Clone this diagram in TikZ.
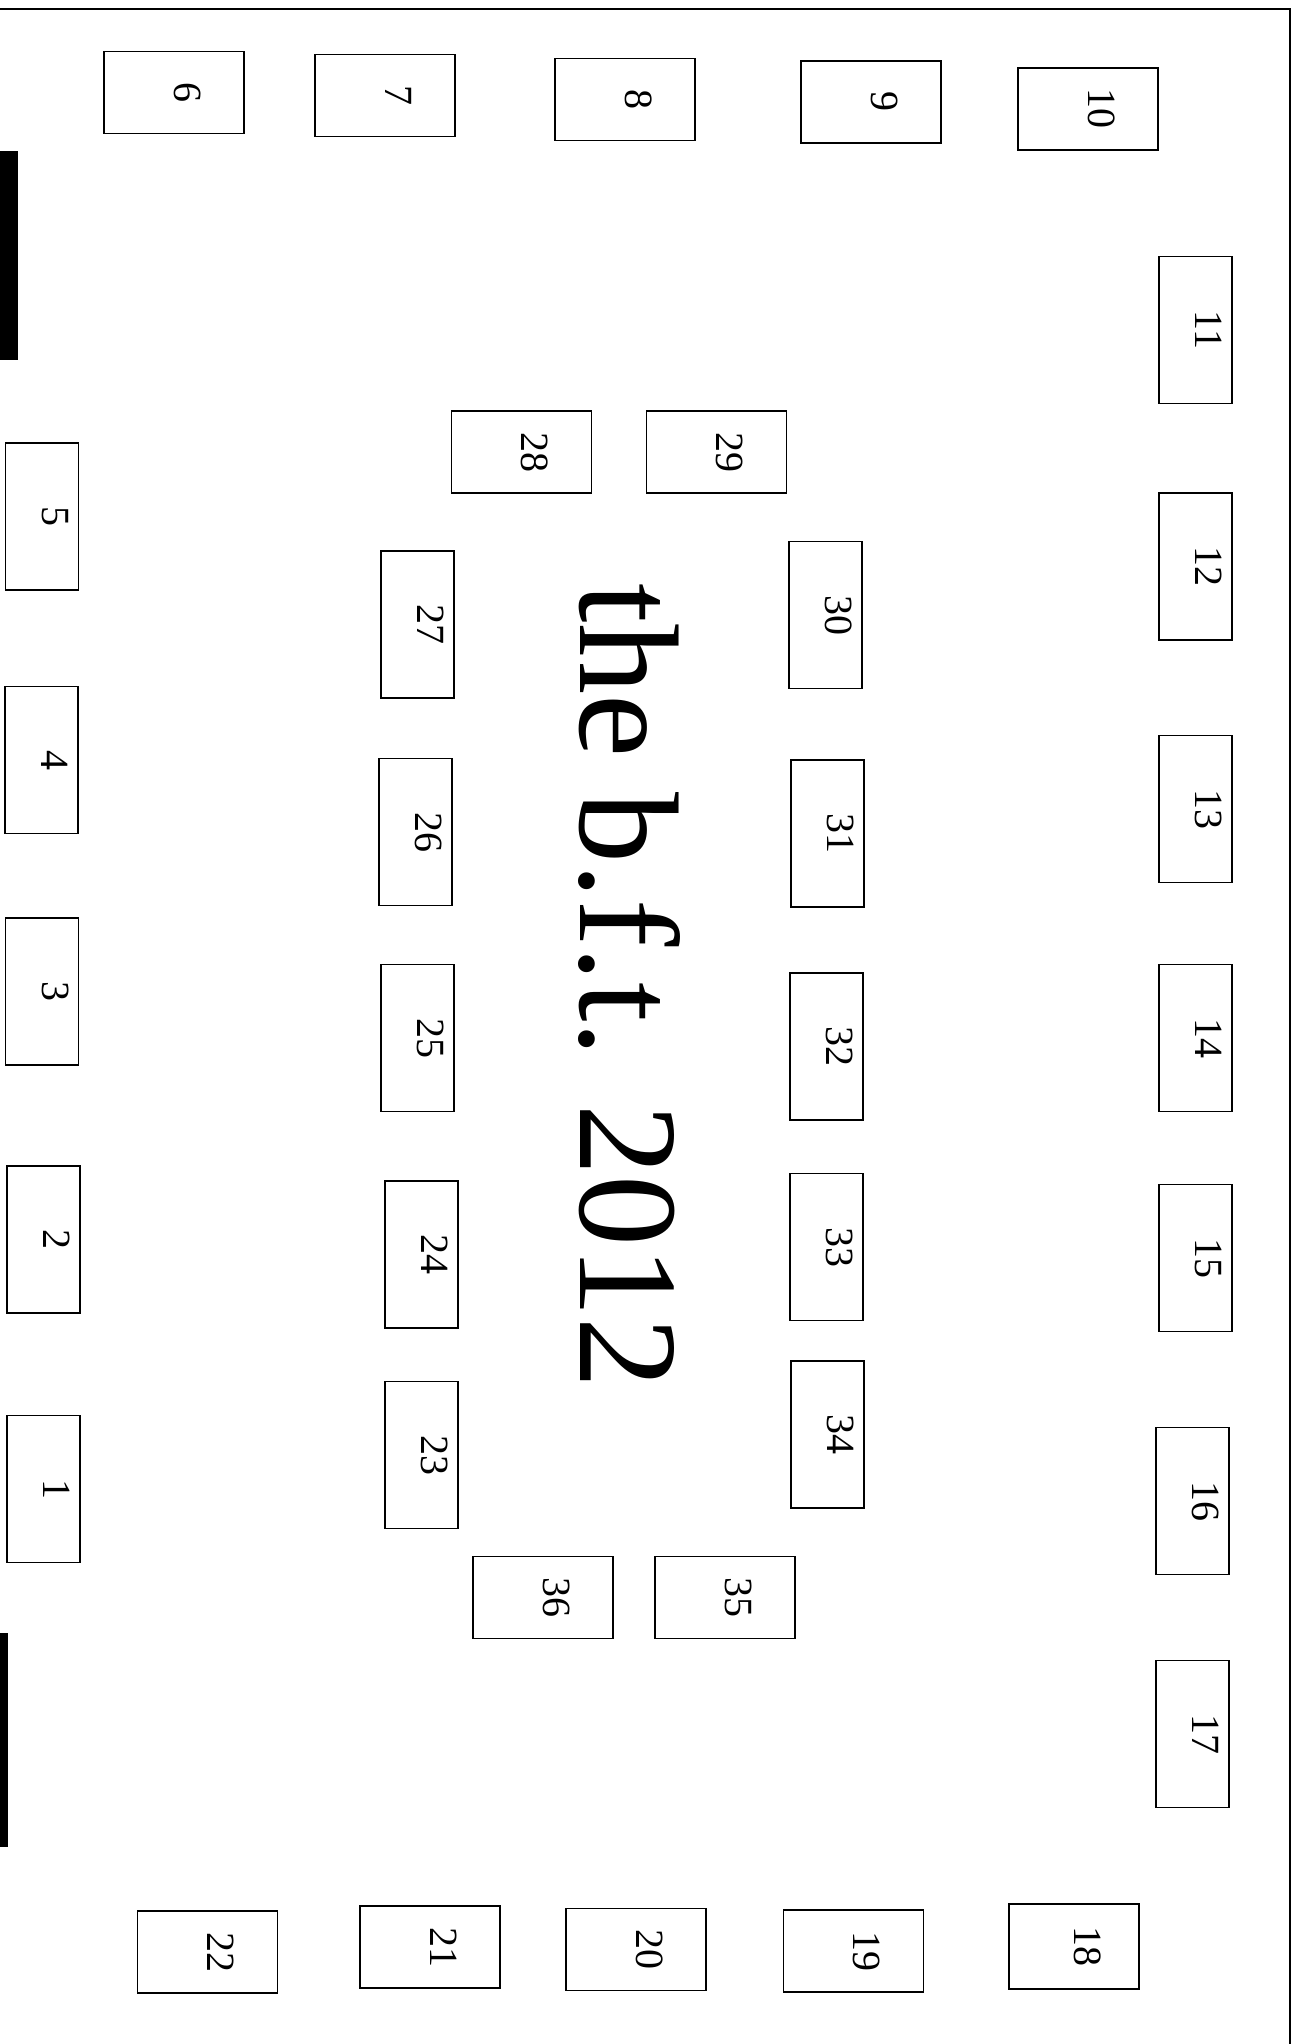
\documentclass[tikz,border=0pt]{standalone}
\usepackage{fontspec}
\setmainfont{Liberation Serif}
\usepackage{tikz}

\begin{document}
\begin{tikzpicture}[
    x=0.5pt, y=-0.5pt,
    desk/.style={draw, line width=0.8pt, rotate=-90, inner sep=0pt,
        font=\fontsize{20}{20}\selectfont, text height=13.6pt, text depth=13.6pt},
    deskh/.style={desk, minimum width=41pt, minimum height=70pt},
    deskv/.style={desk, minimum width=73.5pt, minimum height=36.5pt},
]
    \useasboundingbox (0,0) rectangle (1296,2044);
    % room and doors
    \draw[line width=1pt] (0,9) -- (1290,9) -- (1290,2044);
    \fill (0,151) rectangle (18,360);
    \fill (0,1633) rectangle (8,1847);

    % outer tables, left wall
    \node[deskv] (t1) at (43.5,1489) {1};
    \node[deskv] (t2) at (43.5,1239.5) {2};
    \node[deskv] (t3) at (42,991.5) {3};
    \node[deskv] (t4) at (41.5,760) {4};
    \node[deskv] (t5) at (42,516.5) {5};
    % top wall
    \node[deskh] (t6) at (174,92.5) {6};
    \node[deskh] (t7) at (385,95.5) {7};
    \node[deskh] (t8) at (625,99.5) {8};
    \node[deskh] (t9) at (871,102) {9};
    \node[deskh] (t10) at (1088,109) {10};
    % right wall
    \node[deskv] (t11) at (1195.5,330) {11};
    \node[deskv] (t12) at (1195.5,566.5) {12};
    \node[deskv] (t13) at (1195.5,809) {13};
    \node[deskv] (t14) at (1195.5,1038) {14};
    \node[deskv] (t15) at (1195.5,1258) {15};
    \node[deskv] (t16) at (1192.5,1501) {16};
    \node[deskv] (t17) at (1192.5,1734) {17};
    % bottom wall
    \node[desk, minimum width=42.5pt, minimum height=65pt] (t18) at (1074,1946.5) {18};
    \node[deskh] (t19) at (853.5,1951) {19};
    \node[deskh] (t20) at (636,1949.5) {20};
    \node[deskh] (t21) at (430,1947) {21};
    \node[deskh] (t22) at (207.5,1952) {22};

    % inner ring
    \node[deskv] (t23) at (421.5,1455) {23};
    \node[deskv] (t24) at (421.5,1254.5) {24};
    \node[deskv] (t25) at (417.5,1038) {25};
    \node[deskv] (t26) at (415.5,832) {26};
    \node[deskv] (t27) at (417.5,624.5) {27};
    \node[deskh] (t28) at (521.5,452) {28};
    \node[deskh] (t29) at (716.5,452) {29};
    \node[deskv] (t30) at (825.5,615) {30};
    \node[deskv] (t31) at (827.5,833.5) {31};
    \node[deskv] (t32) at (826.5,1046.5) {32};
    \node[deskv] (t33) at (826.5,1247) {33};
    \node[deskv] (t34) at (827.5,1434.5) {34};
    \node[deskh] (t35) at (725,1597.5) {35};
    \node[deskh] (t36) at (543,1597.5) {36};

    \node[rotate=-90, anchor=base, inner sep=0pt, font=\fontsize{71}{71}\selectfont] (title) at (580,986) {the b.f.t. 2012};
\end{tikzpicture}
\end{document}
